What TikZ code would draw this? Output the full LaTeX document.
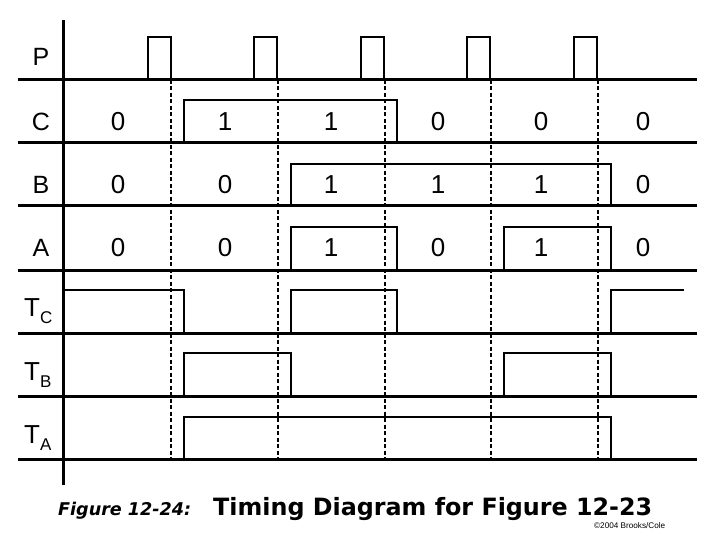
\documentclass[tikz,border=0pt]{standalone}
\usepackage{fontspec}
\setmainfont{Liberation Sans}
\newfontfamily\capfont{DejaVu Sans}
\begin{document}
\begin{tikzpicture}[x=1pt,y=-1pt,
  baseln/.style={line width=3pt},
  wave/.style={line width=2pt, line join=miter},
  clk/.style={line width=1.5pt, dash pattern=on 4pt off 2.5pt},
  lab/.style={font=\fontsize{25}{25}\selectfont, anchor=center, inner sep=0pt},
  tlab/.style={font=\fontsize{26}{26}\selectfont, anchor=base west, inner sep=0pt},
  num/.style={font=\fontsize{26}{26}\selectfont, anchor=center, inner sep=0pt}]
\useasboundingbox (0,0) rectangle (720,540);
% baselines
\foreach \y in {80,143,206,270,333,396,459} \draw[baseln] (18,\y) -- (697,\y);
% axis
\draw[baseln] (63,20) -- (63,485);
% clock dashed lines
\foreach \x in {171,278,385,491,598} \draw[clk] (\x,80) -- (\x,459);
% P pulses
\foreach \x in {148,254,361,467,574} \draw[wave] (\x,80) -- (\x,37) -- ++(23,0) -- ++(0,43);
% C
\draw[wave] (184,143) -- (184,100) -- (397,100) -- (397,143);
% B
\draw[wave] (291,206) -- (291,164) -- (611,164) -- (611,206);
% A
\draw[wave] (291,270) -- (291,227) -- (397,227) -- (397,270);
\draw[wave] (504,270) -- (504,227) -- (611,227) -- (611,270);
% TC
\draw[wave] (63,290) -- (184,290) -- (184,333);
\draw[wave] (291,333) -- (291,290) -- (397,290) -- (397,333);
\draw[wave] (611,333) -- (611,290) -- (684,290);
% TB
\draw[wave] (184,396) -- (184,353) -- (291,353) -- (291,396);
\draw[wave] (504,396) -- (504,353) -- (611,353) -- (611,396);
% TA
\draw[wave] (184,459) -- (184,417) -- (611,417) -- (611,459);
% labels
\node[lab] (lP) at (41,57) {P};
\node[lab] (lC) at (41,122) {C};
\node[lab] (lB) at (41,185) {B};
\node[lab] (lA) at (41,248) {A};
\node[tlab] (lTC) at (24,316) {T\raisebox{-7pt}{\fontsize{17}{17}\selectfont C}};
\node[tlab] (lTB) at (24,380) {T\raisebox{-7pt}{\fontsize{17}{17}\selectfont B}};
\node[tlab] (lTA) at (24,443) {T\raisebox{-7pt}{\fontsize{17}{17}\selectfont A}};
% values
\foreach \v [count=\i] in {0,1,1,0,0,0} {
  \pgfmathsetmacro\xx{{118,225,331,438,541,643}[\i-1]}
  \node[num] (c\i) at (\xx,122) {\v};}
\foreach \v [count=\i] in {0,0,1,1,1,0} {
  \pgfmathsetmacro\xx{{118,225,331,438,541,643}[\i-1]}
  \node[num] (b\i) at (\xx,185) {\v};}
\foreach \v [count=\i] in {0,0,1,0,1,0} {
  \pgfmathsetmacro\xx{{118,225,331,438,541,643}[\i-1]}
  \node[num] (a\i) at (\xx,248) {\v};}
% caption
\node[anchor=base west, inner sep=0pt] (fig) at (58,515) {\resizebox{133pt}{!}{\capfont\bfseries\itshape\fontsize{17}{17}\selectfont Figure 12-24:}};
\node[anchor=base west, inner sep=0pt] (title) at (213,515) {\resizebox{439pt}{!}{\capfont\bfseries\fontsize{24}{24}\selectfont Timing Diagram for Figure 12-23}};
\node[anchor=base west, inner sep=0pt] (copy) at (594,528) {\resizebox{71pt}{!}{\fontsize{7}{7}\selectfont\textcopyright2004 Brooks/Cole}};
\end{tikzpicture}
\end{document}
